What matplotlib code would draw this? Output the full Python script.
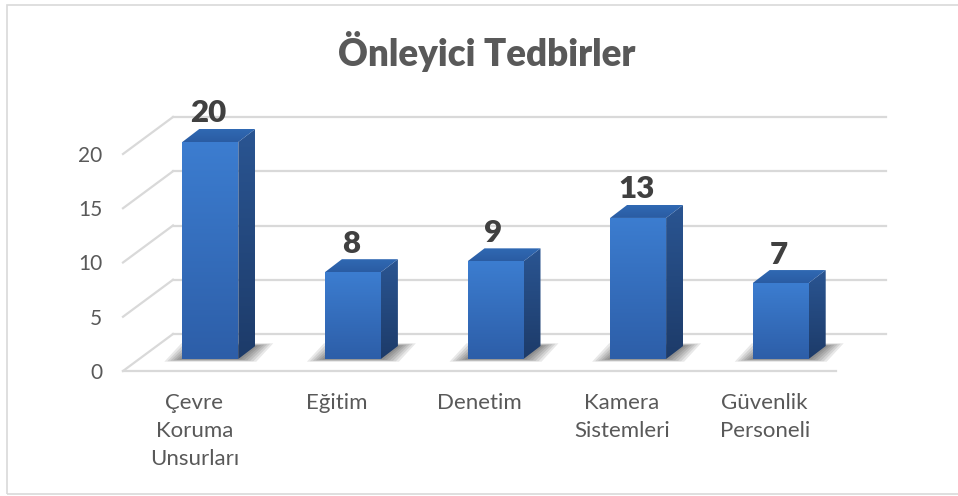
import numpy as np
import matplotlib
matplotlib.use('Agg')
import matplotlib.pyplot as plt
from matplotlib.patches import Polygon, Rectangle
from matplotlib.colors import LinearSegmentedColormap

categories = ["Çevre\nKoruma\nUnsurları", "Eğitim", "Denetim", "Kamera\nSistemleri", "Güvenlik\nPersoneli"]
values = [20, 8, 9, 13, 7]
y_ticks = [0, 5, 10, 15, 20]
title = "Önleyici Tedbirler"

plt.rcParams['font.family'] = ['Lato', 'DejaVu Sans']

W, H = 958, 496
fig = plt.figure(figsize=(W / 100, H / 100), dpi=100)
S = 142.6   # px per category
U = 10.85   # px per value unit
ax = fig.add_axes([123 / W, 125 / H, 5.5 * S / W, 25 * U / H])
ax.patch.set_visible(False)

# 3D geometry (data units)
DX, DY = 50 / S, 37 / U        # wall depth
BOX, BOY = 16 / S, 12 / U      # bar front offset in depth
BDX, BDY = 17 / S, 13 / U      # bar depth
BW = 56 / S                    # bar width

grid_c = '#d9d9d9'
n = len(categories)
for v in y_ticks:
    ax.plot([-0.5 + DX, n - 0.5 + DX], [v + DY, v + DY], color=grid_c, lw=1.6, zorder=1, clip_on=False)
    ax.plot([-0.5, -0.5 + DX], [v, v + DY], color=grid_c, lw=1.6, zorder=1, clip_on=False)
ax.plot([-0.5, n - 0.5], [0, 0], color=grid_c, lw=1.6, zorder=1, clip_on=False)


def grad_poly(verts, c_top, c_bot, z):
    poly = Polygon(verts, closed=True, facecolor='none', edgecolor='none', transform=ax.transData)
    ax.add_patch(poly)
    xs = [p[0] for p in verts]
    ys = [p[1] for p in verts]
    cmap = LinearSegmentedColormap.from_list('g', [c_bot, c_top])
    grad = np.linspace(0, 1, 256).reshape(-1, 1)
    im = ax.imshow(grad, cmap=cmap, extent=(min(xs), max(xs), min(ys), max(ys)),
                   origin='lower', aspect='auto', zorder=z, interpolation='bilinear')
    im.set_clip_path(poly)


for i, v in enumerate(values):
    x0 = i + BOX - BW / 2
    x1 = x0 + BW
    yb = BOY
    yt = BOY + v
    for k in range(1, 7):
        e = k * 3 / S
        ev = k * 0.45 / U
        sv = [(x0 - e, yb - ev), (x1 + e, yb - ev), (x1 + BDX + e, yb + BDY + ev), (x0 + BDX - e, yb + BDY + ev)]
        ax.add_patch(Polygon(sv, closed=True, facecolor='black', edgecolor='none', alpha=0.09, zorder=2))
    front = [(x0, yb), (x1, yb), (x1, yt), (x0, yt)]
    side = [(x1, yb), (x1 + BDX, yb + BDY), (x1 + BDX, yt + BDY), (x1, yt)]
    top = [(x0, yt), (x1, yt), (x1 + BDX, yt + BDY), (x0 + BDX, yt + BDY)]
    grad_poly(front, '#3c7dd0', '#2d5ea8', 4)
    grad_poly(side, '#2a5592', '#1d3b69', 4)
    grad_poly(top, '#3069b3', '#2a5ca3', 4)
    ax.text(i + BOX - 2 / S, yt + BDY + 0.6, str(v), ha='center', va='baseline',
            fontsize=22.5, fontweight='heavy', color='#404040', zorder=6)

ax.set_xlim(-0.5, n)
ax.set_ylim(0, 25)
ax.set_yticks(y_ticks)
ax.set_xticks(range(n), categories)
ax.tick_params(axis='y', length=0, pad=15, labelsize=15, labelcolor='#595959')
ax.tick_params(axis='x', length=0, pad=16, labelsize=16, labelcolor='#595959')
for lbl in ax.get_xticklabels():
    lbl.set_linespacing(1.5)
for sp in ax.spines.values():
    sp.set_visible(False)

fig.text(487 / W, 1 - 66 / H, title, ha='center', va='baseline', fontsize=26.5,
         fontweight='heavy', color='#595959')

fig.patches.append(Rectangle((7 / W, 2 / H), 1.0, 489 / H, transform=fig.transFigure,
                             fill=False, edgecolor='#d9d9d9', lw=1.2))

fig.savefig('out.png', dpi=100)
